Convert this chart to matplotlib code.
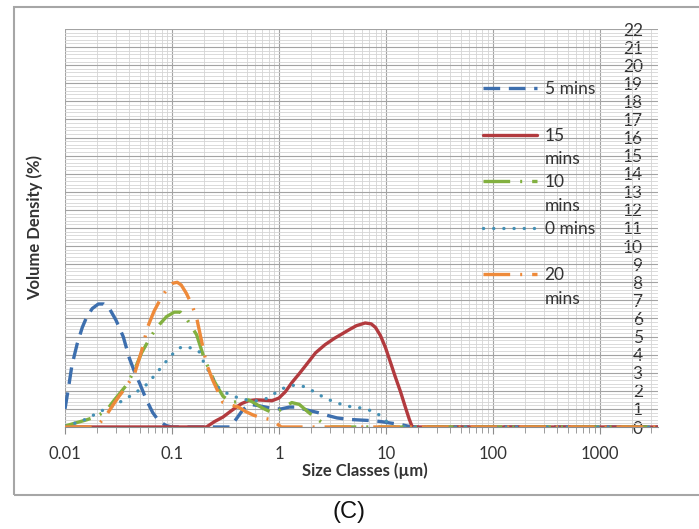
import matplotlib
matplotlib.use("Agg")
import matplotlib.pyplot as plt
from matplotlib.lines import Line2D
from matplotlib.patches import Rectangle
from matplotlib.ticker import FixedLocator, NullFormatter
import numpy as np

###############################################################################
#                         Particle size distributions                         #
###############################################################################
# size classes (um) and volume density (%) for each milling time

size_5 = [0.01, 0.0108, 0.0116, 0.013, 0.0145, 0.016, 0.018, 0.0205, 0.023,
          0.026, 0.03, 0.035, 0.04, 0.045, 0.05, 0.055, 0.06, 0.066, 0.075,
          0.088, 0.1, 0.35, 0.4, 0.46, 0.53, 0.62, 0.75, 0.9, 1.05, 1.25,
          1.45, 1.8, 2.3, 2.8, 3.5, 4.5, 6.0, 7.5, 9.0, 11, 13.5, 16, 18, 3500]
dens_5 = [1.0, 2.2, 3.4, 4.6, 5.5, 6.1, 6.55, 6.8, 6.8,
          6.55, 5.9, 5.0, 3.8, 3.0, 2.4, 1.8, 1.3, 0.8, 0.35,
          0.08, 0.0, 0.0, 0.45, 0.95, 1.25, 1.2, 1.1, 1.0, 1.0, 1.1,
          1.1, 0.95, 0.8, 0.65, 0.5, 0.42, 0.38, 0.35, 0.3, 0.22, 0.15, 0.05, 0.0, 0.0]

size_15 = [0.01, 0.21, 0.25, 0.3, 0.35, 0.4, 0.45, 0.52, 0.61, 0.72, 0.86,
           1.0, 1.15, 1.32, 1.55, 1.78, 2.2, 2.7, 3.3, 3.9, 4.6, 5.3, 6.4,
           7.3, 8.0, 8.9, 9.9, 11.0, 12.2, 13.7, 15.2, 16.5, 17.5, 18, 3500]
dens_15 = [0.0, 0.0, 0.3, 0.55, 0.85, 1.1, 1.3, 1.45, 1.5, 1.48, 1.45,
           1.6, 1.95, 2.45, 2.95, 3.4, 4.1, 4.55, 4.9, 5.15, 5.4, 5.6, 5.75,
           5.7, 5.5, 5.05, 4.4, 3.6, 2.8, 1.95, 1.1, 0.45, 0.05, 0.0, 0.0]

size_10 = [0.01, 0.013, 0.016, 0.019, 0.022, 0.025, 0.029, 0.034, 0.038,
           0.045, 0.052, 0.062, 0.072, 0.089, 0.105, 0.12, 0.14, 0.17, 0.2,
           0.25, 0.3, 0.36, 0.45, 0.52, 0.6, 0.7, 0.86, 1.0, 1.15, 1.32,
           1.55, 1.9, 2.2, 2.6, 3.0, 3500]
dens_10 = [0.05, 0.25, 0.4, 0.55, 0.75, 1.0, 1.5, 2.0, 2.35,
           3.2, 4.1, 4.9, 5.5, 6.1, 6.35, 6.35, 5.9, 5.1, 3.8,
           2.5, 1.7, 1.35, 1.45, 1.5, 1.3, 1.05, 0.8, 0.9, 1.15, 1.35,
           1.25, 0.8, 0.5, 0.2, 0.0, 0.0]

size_0 = [0.01, 0.013, 0.016, 0.019, 0.022, 0.026, 0.031, 0.038, 0.047,
          0.058, 0.07, 0.082, 0.095, 0.11, 0.125, 0.14, 0.16, 0.18, 0.19,
          0.21, 0.24, 0.27, 0.33, 0.4, 0.5, 0.62, 0.75, 0.88, 1.0, 1.15,
          1.35, 1.55, 1.8, 2.2, 2.7, 3.4, 4.4, 5.9, 7.3, 8.5, 9.5, 10.5, 12, 3500]
dens_0 = [0.05, 0.25, 0.45, 0.7, 0.9, 1.05, 1.3, 1.6, 1.95,
          2.35, 2.9, 3.4, 3.85, 4.25, 4.45, 4.4, 4.35, 4.15, 3.8,
          3.3, 2.7, 2.2, 1.85, 1.65, 1.5, 1.45, 1.55, 1.8, 2.0, 2.2,
          2.3, 2.3, 2.2, 1.9, 1.6, 1.35, 1.15, 1.05, 0.9, 0.7, 0.5, 0.2, 0.0, 0.0]

size_20 = [0.01, 0.018, 0.021, 0.024, 0.028, 0.032, 0.035, 0.04, 0.045,
           0.052, 0.059, 0.068, 0.077, 0.089, 0.102, 0.112, 0.122, 0.136,
           0.155, 0.172, 0.19, 0.21, 0.24, 0.265, 0.3, 0.36, 0.42, 0.49,
           0.58, 0.7, 0.86, 0.95, 1.05, 3500]
dens_20 = [0.0, 0.0, 0.2, 0.6, 1.2, 1.7, 2.0, 2.5, 3.0,
           4.2, 5.5, 6.4, 7.0, 7.6, 7.95, 8.0, 7.85, 7.4,
           6.7, 5.9, 4.7, 3.5, 2.6, 2.05, 1.35, 1.2, 1.1, 0.85,
           0.65, 0.5, 0.4, 0.2, 0.0, 0.0]

x_ticks = [0.01, 0.1, 1, 10, 100, 1000]
x_tick_labels = ["0.01", "0.1", "1", "10", "100", "1000"]
y_ticks = list(range(0, 23))

###############################################################################
#                                   Plot                                      #
###############################################################################
plt.rcParams['font.family'] = ['Lato', 'DejaVu Sans']
text_col = '#333333'

fig = plt.figure(figsize=(6.99, 5.29), dpi=100)
ax = fig.add_axes([65 / 699, 1 - 427 / 529, 593 / 699, 398 / 529])

lw = 2.4
l5, = ax.plot(size_5, dens_5, color='#3d6fae', lw=lw, dashes=(5, 2.6),
              dash_capstyle='butt')
l15, = ax.plot(size_15, dens_15, color='#b23a3e', lw=lw, solid_capstyle='round')
l10, = ax.plot(size_10, dens_10, color='#82b040', lw=lw, dashes=(8, 3, 0.6, 3),
               dash_capstyle='butt')
l0, = ax.plot(size_0, dens_0, color='#4590b4', lw=lw, dashes=(0.05, 3.0),
              dash_capstyle='round')
l20, = ax.plot(size_20, dens_20, color='#ee8a3a', lw=lw, dashes=(8, 3, 0.6, 3),
               dash_capstyle='butt')

ax.set_xscale('log')
ax.set_xlim(0.01, 3500)
ax.set_ylim(0, 22)

# log grid: decades darker, 2..9 lighter
ax.xaxis.set_major_locator(FixedLocator(x_ticks))
ax.set_xticklabels(x_tick_labels)
minor_x = [m * 10.0 ** e for e in range(-2, 4) for m in range(2, 10)]
ax.xaxis.set_minor_locator(FixedLocator(minor_x))
ax.xaxis.set_minor_formatter(NullFormatter())

ax.set_yticks(y_ticks)
ax.yaxis.set_minor_locator(FixedLocator(np.arange(0, 22.01, 0.2)))

ax.grid(True, which='major', color='#a3a3a3', lw=0.8)
ax.grid(True, which='minor', color='#d4d4d4', lw=0.6)
ax.set_axisbelow(True)

for side in ['top', 'right', 'left']:
    ax.spines[side].set_visible(False)
ax.spines['bottom'].set_color('#8c8c8c')

ax.tick_params(axis='x', which='major', length=5, color='#8c8c8c', pad=9,
               labelsize=12, labelcolor=text_col)
ax.tick_params(axis='x', which='minor', length=4, color='#8c8c8c')

# value labels sit just inside the right edge of the plot
ax.yaxis.tick_right()
ax.tick_params(axis='y', which='both', length=0, pad=-11, labelsize=12.5,
               labelcolor=text_col)
plt.setp(ax.get_yticklabels(), ha='right')

ax.set_xlabel("Size Classes (µm)", fontsize=12, fontweight='bold', color=text_col)
ax.xaxis.set_label_coords(0.506, -0.09)
ax.yaxis.set_label_position('left')
ax.set_ylabel("Volume Density (%)", fontsize=12, fontweight='bold', color=text_col)
ax.yaxis.set_label_coords(-0.037, 0.5)

# legend with the handle on the first line of each label
blank = Line2D([], [], color='none')
handles = [l5, blank, l15, blank, l10, blank, l0, blank, l20, blank]
labels = ["5 mins", " ", "15", "mins", "10", "mins", "0 mins", " ", "20", "mins"]
ax.legend(handles, labels, loc='upper left', bbox_to_anchor=(0.705, 0.869),
          frameon=False, borderpad=0, borderaxespad=0, handlelength=3.1,
          handletextpad=0.45, labelspacing=0.42, fontsize=12.5, labelcolor=text_col)

# outer chart frame
fig.patches.append(Rectangle((14 / 699, 1 - 495 / 529), 1.0, 488 / 529,
                             transform=fig.transFigure, fill=False,
                             edgecolor='#a6a6a6', lw=1.5))

fig.text(0.5, 1 - 512 / 529, "(C)", ha='center', va='center', fontsize=17,
         family='Liberation Sans', color='#111111')

fig.savefig("out.png", dpi=100)
